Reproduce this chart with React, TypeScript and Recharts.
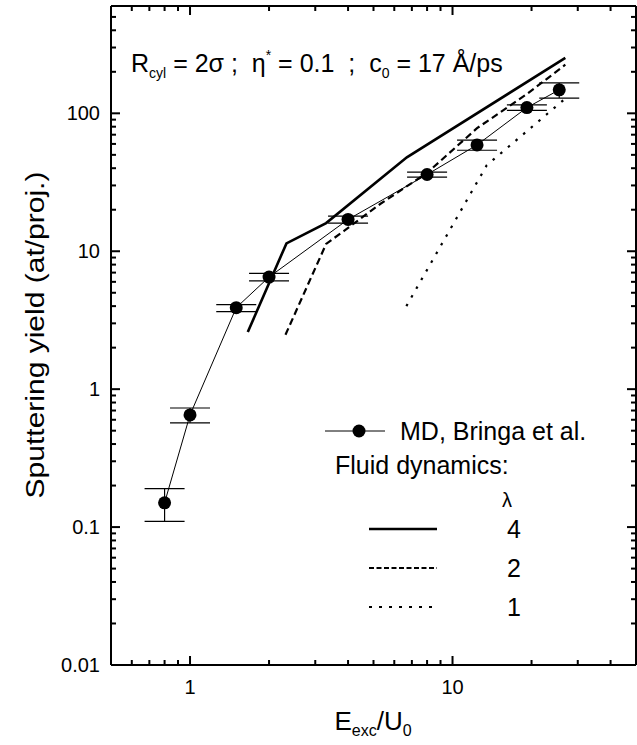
import React from 'react';
import { LineChart, Line, XAxis, YAxis, ErrorBar } from 'recharts';

// MD simulation (Bringa et al.)
const mdX = [0.8, 1.0, 1.5, 2.0, 4.0, 8.0, 12.4, 19.2, 25.5];
const mdY = [0.15, 0.65, 3.9, 6.5, 17, 36, 59, 110, 148];
const mdLow = [0.11, 0.57, 3.65, 6.1, 16, 34.5, 54, 105, 129];
const mdHigh = [0.19, 0.73, 4.1, 6.9, 18, 37.5, 64, 115, 166];

// Fluid dynamics, lambda = 4
const lam4X = [1.66, 2.33, 3.3, 6.7, 26.9];
const lam4Y = [2.6, 11.4, 16, 48, 252];
// lambda = 2
const lam2X = [2.31, 3.3, 3.85, 5.3, 8.0, 12.4, 19.2, 26.9];
const lam2Y = [2.48, 11.3, 14, 22, 37, 78, 138, 225];
// lambda = 1
const lam1X = [6.67, 13.5, 26.9];
const lam1Y = [4.0, 42, 128];

const xDomain = [0.5, 50];
const yDomain = [0.01, 600];
const xTicks = [0.6, 0.7, 0.8, 0.9, 1, 2, 3, 4, 5, 6, 7, 8, 9, 10, 20, 30, 40];
const xMajor = [1, 10];
const xMajorLabels = ['1', '10'];
const yTicksMain = [
  0.01, 0.02, 0.03, 0.05, 0.1, 0.2, 0.3, 0.5, 1, 2, 3, 5, 10, 20, 30, 50, 100, 200, 300, 500,
];
const yTicksMinor = [
  0.04, 0.06, 0.07, 0.08, 0.09, 0.4, 0.6, 0.7, 0.8, 0.9, 4, 6, 7, 8, 9, 40, 60, 70, 80, 90, 400,
];
const yMajor = [0.01, 0.1, 1, 10, 100];
const yMajorLabels = ['0.01', '0.1', '1', '10', '100'];

const md = mdX.map((x, i) => ({ x, y: mdY[i], err: [mdY[i] - mdLow[i], mdHigh[i] - mdY[i]] }));
const lam4 = lam4X.map((x, i) => ({ x, y: lam4Y[i] }));
const lam2 = lam2X.map((x, i) => ({ x, y: lam2Y[i] }));
const lam1 = lam1X.map((x, i) => ({ x, y: lam1Y[i] }));

const FONT = '"Liberation Sans", Arial, Helvetica, sans-serif';
const SHIFT_Y = 14;
const EXTRA_W = 19;
const CW = 637 + EXTRA_W;
const CH = 745 + SHIFT_Y;
const MAJ = 9;
const MIN = 5;

const majorIndex = (v: number, majors: number[]) =>
  majors.findIndex((m) => Math.abs(m - v) / m < 1e-6);

const bottomTick = (props: any) => {
  const x = Number(props.x);
  const y = Number(props.y);
  const i = majorIndex(props.payload.value, xMajor);
  const len = i >= 0 ? MAJ : MIN;
  return (
    <g>
      <rect x={x - 1} y={y - len} width={2} height={len} fill="#000" />
      {i >= 0 ? (
        <text x={x} y={y + 29} textAnchor="middle" fontFamily={FONT} fontSize={20} fill="#000">
          {xMajorLabels[i]}
        </text>
      ) : null}
    </g>
  );
};

const topTick = (props: any) => {
  const x = Number(props.x);
  const y = Number(props.y);
  const i = majorIndex(props.payload.value, xMajor);
  const len = i >= 0 ? MAJ : MIN;
  return (
    <g>
      <rect x={x - 1} y={y} width={2} height={len} fill="#000" />
    </g>
  );
};

const leftTick = (props: any) => {
  const x = Number(props.x);
  const y = Number(props.y);
  const i = majorIndex(props.payload.value, yMajor);
  const len = i >= 0 ? MAJ : MIN;
  return (
    <g>
      <rect x={x} y={y - 1} width={len} height={2} fill="#000" />
      {i >= 0 ? (
        <text x={x - 11} y={y + 7} textAnchor="end" fontFamily={FONT} fontSize={20} fill="#000">
          {yMajorLabels[i]}
        </text>
      ) : null}
    </g>
  );
};

const rightTick = (props: any) => {
  const x = Number(props.x);
  const y = Number(props.y);
  const i = majorIndex(props.payload.value, yMajor);
  const len = i >= 0 ? MAJ : MIN;
  return (
    <g>
      <rect x={x - len} y={y - 1} width={len} height={2} fill="#000" />
    </g>
  );
};

const axisLine = { stroke: '#000', strokeWidth: 2 };
const layer: React.CSSProperties = { position: 'absolute', left: 0, top: -SHIFT_Y };
const margin = { top: 0, right: 0, bottom: 0, left: 0 };

// Axis set shared by every layer, so the layers line up exactly.
const axes = (opts: {
  bottom: any;
  top: any;
  left: any;
  right: any;
  xT: number[];
  yT: number[];
  line: boolean;
}) => [
  <XAxis key="b" xAxisId="b" dataKey="x" type="number" scale="log" domain={xDomain} allowDataOverflow ticks={opts.xT} interval={0} tickSize={0} tickMargin={0} tickLine={false} tick={opts.bottom} axisLine={opts.line ? axisLine : false} height={80} orientation="bottom" />,
  <XAxis key="t" xAxisId="t" dataKey="x" type="number" scale="log" domain={xDomain} allowDataOverflow ticks={opts.xT} interval={0} tickSize={0} tickMargin={0} tickLine={false} tick={opts.top} axisLine={opts.line ? axisLine : false} height={6 + SHIFT_Y} orientation="top" />,
  <YAxis key="l" yAxisId="l" type="number" scale="log" domain={yDomain} allowDataOverflow ticks={opts.yT} interval={0} tickSize={0} tickMargin={0} tickLine={false} tick={opts.left} axisLine={opts.line ? axisLine : false} width={111} orientation="left" />,
  <YAxis key="r" yAxisId="r" type="number" scale="log" domain={yDomain} allowDataOverflow ticks={opts.yT} interval={0} tickSize={0} tickMargin={0} tickLine={false} tick={opts.right} axisLine={opts.line ? axisLine : false} width={1 + EXTRA_W} orientation="right" />,
];

export default function App() {
  return (
    <div style={{ position: 'absolute', left: 0, top: 0, width: 637, height: 745, overflow: 'hidden', background: '#fff' }}>
      <svg width={637} height={745} style={{ position: 'absolute', left: 0, top: 0 }} fontFamily={FONT}>
        <text x={131} y={72} fontSize={25} fill="#000" style={{ whiteSpace: 'pre' }}>
          R<tspan fontSize={14} dy={6}>cyl</tspan>
          <tspan dy={-6}> = 2σ ;  η</tspan>
          <tspan fontSize={14} dy={-12}>*</tspan>
          <tspan dy={12}> = 0.1  ;  c</tspan>
          <tspan fontSize={14} dy={6}>0</tspan>
          <tspan dy={-6}> = 17 Å/ps</tspan>
        </text>

        <line x1={325} x2={385} y1={431} y2={431} stroke="#000" strokeWidth={1} />
        <circle cx={359} cy={431} r={6.5} fill="#000" />
        <text x={400} y={440} fontSize={25} fill="#000">MD, Bringa et al.</text>
        <text x={335} y={474} fontSize={25} fill="#000">Fluid dynamics:</text>
        <text x={502} y={507} fontSize={20} fill="#000">λ</text>
        <line x1={369} x2={437} y1={529} y2={529} stroke="#000" strokeWidth={2.6} />
        <text x={507} y={538} fontSize={25} fill="#000">4</text>
        <line x1={369} x2={437} y1={568} y2={568} stroke="#000" strokeWidth={2} strokeDasharray="5 2.5" />
        <text x={507} y={577} fontSize={25} fill="#000">2</text>
        <line x1={369} x2={437} y1={607} y2={607} stroke="#000" strokeWidth={2} strokeDasharray="3 7" />
        <text x={507} y={616} fontSize={25} fill="#000">1</text>

        <text x={373} y={730} fontSize={26} fill="#000" textAnchor="middle">
          E<tspan fontSize={16} dy={6}>exc</tspan>
          <tspan dy={-6}>/U</tspan>
          <tspan fontSize={16} dy={6}>0</tspan>
        </text>
        <text
          transform="translate(44,335) rotate(-90) scale(1.2,1)"
          x={0}
          y={0}
          fontSize={25}
          fill="#000"
          textAnchor="middle"
        >
          Sputtering yield (at/proj.)
        </text>
      </svg>

      {/* layer 1: frame, main ticks + labels, MD data */}
      <div style={layer}>
        <LineChart width={CW} height={CH} margin={margin}>
          {axes({ bottom: bottomTick, top: topTick, left: leftTick, right: rightTick, xT: xTicks, yT: yTicksMain, line: true })}
          <Line xAxisId="t" yAxisId="r" data={md} dataKey="y" stroke="none" dot={false} isAnimationActive={false} />
          <Line xAxisId="b" yAxisId="l" data={md} dataKey="y" stroke="#000" strokeWidth={1} dot={{ r: 6.5, fill: '#000', stroke: '#000', strokeWidth: 0 }} isAnimationActive={false}>
            <ErrorBar dataKey="err" direction="y" width={20} stroke="#000" strokeWidth={1.2} />
          </Line>
        </LineChart>
      </div>

      {/* layer 2: remaining minor y ticks */}
      <div style={layer}>
        <LineChart width={CW} height={CH} margin={margin}>
          {axes({ bottom: false, top: false, left: leftTick, right: rightTick, xT: xMajor, yT: yTicksMinor, line: false })}
          <Line xAxisId="t" yAxisId="r" data={md} dataKey="y" stroke="none" dot={false} isAnimationActive={false} />
          <Line xAxisId="b" yAxisId="l" data={md} dataKey="y" stroke="none" dot={false} isAnimationActive={false} />
        </LineChart>
      </div>

      {/* layer 3: fluid-dynamics curves */}
      <div style={layer}>
        <LineChart width={CW} height={CH} margin={margin}>
          {axes({ bottom: false, top: false, left: false, right: false, xT: xMajor, yT: yMajor, line: false })}
          <Line xAxisId="t" yAxisId="r" data={md} dataKey="y" stroke="none" dot={false} isAnimationActive={false} />
          <Line xAxisId="b" yAxisId="l" data={lam4} dataKey="y" stroke="#000" strokeWidth={2.6} dot={false} isAnimationActive={false} />
          <Line xAxisId="b" yAxisId="l" data={lam2} dataKey="y" stroke="#000" strokeWidth={2.2} strokeDasharray="7 4" dot={false} isAnimationActive={false} />
          <Line xAxisId="b" yAxisId="l" data={lam1} dataKey="y" stroke="#000" strokeWidth={2.2} strokeDasharray="2.5 7.5" dot={false} isAnimationActive={false} />
        </LineChart>
      </div>
    </div>
  );
}
